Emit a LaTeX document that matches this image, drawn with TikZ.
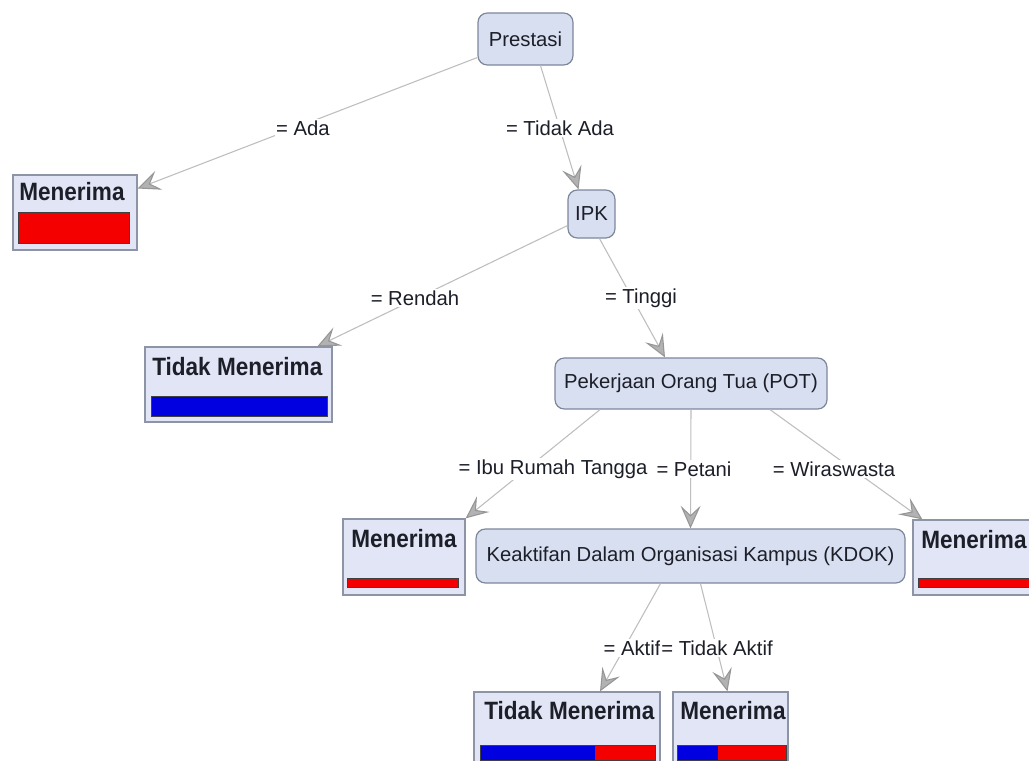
\documentclass[tikz,border=0pt]{standalone}
\usepackage{fontspec}
\setmainfont{Liberation Sans}
\newfontfamily\ttlfont{Liberation Sans}[FakeStretch=0.9]
\usetikzlibrary{arrows.meta}
\definecolor{innerfill}{RGB}{216,223,241}
\definecolor{innerdraw}{RGB}{125,135,155}
\definecolor{leaffill}{RGB}{226,229,246}
\definecolor{leafdraw}{RGB}{140,148,165}
\definecolor{txt}{RGB}{28,30,40}
\definecolor{barred}{RGB}{245,0,0}
\definecolor{barblue}{RGB}{0,0,225}
\definecolor{edgecol}{RGB}{190,190,190}
\definecolor{tipdraw}{RGB}{150,150,150}
\definecolor{tipfill}{RGB}{178,178,178}
\tikzset{
  inner/.style={draw=innerdraw, fill=innerfill, rounded corners=7pt, line width=0.9pt,
    text=txt, font=\fontsize{15.2pt}{18pt}\selectfont, inner sep=0pt},
  leaf/.style={draw=leafdraw, fill=leaffill, line width=0.9pt, inner sep=0pt},
  ttl/.style={anchor=west, inner sep=0pt, text=txt, font=\ttlfont\fontsize{18.8pt}{22pt}\selectfont\bfseries},
  barline/.style={draw=black!75, line width=0.6pt},
  lbl/.style={fill=white, inner sep=1pt, text=txt, font=\fontsize{15.2pt}{18pt}\selectfont},
  edge/.style={draw=edgecol, line width=0.8pt,
    -{Stealth[length=17pt,width=15pt,inset=7pt,color=tipdraw,fill=tipfill]}},
}
\begin{document}
\begin{tikzpicture}[x=0.75pt,y=-0.75pt]
\useasboundingbox[fill=white] (0,0) rectangle (1029,761);

% inner nodes
\node[inner, minimum width=95*0.75pt, minimum height=52*0.75pt] (pre) at (525.5,39) {Prestasi};
\node[inner, minimum width=47*0.75pt, minimum height=48*0.75pt] (ipk) at (591.5,214) {IPK};
\node[inner, minimum width=272*0.75pt, minimum height=51*0.75pt] (pot) at (691,383.5) {Pekerjaan Orang Tua (POT)};
\node[inner, minimum width=429*0.75pt, minimum height=54*0.75pt] (kdok) at (690.5,556) {Keaktifan Dalam Organisasi Kampus (KDOK)};

% leaf boxes
\node[leaf, minimum width=124*0.75pt, minimum height=75*0.75pt] (m1) at (75,212.5) {};
\node[leaf, minimum width=187*0.75pt, minimum height=75*0.75pt] (tm1) at (238.5,384.5) {};
\node[leaf, minimum width=122*0.75pt, minimum height=76*0.75pt] (m2) at (404,557) {};
\node[leaf, minimum width=122*0.75pt, minimum height=75*0.75pt] (m3) at (974,557.5) {};
\node[leaf, minimum width=186*0.75pt, minimum height=75*0.75pt] (tm2) at (567,729.5) {};
\node[leaf, minimum width=115*0.75pt, minimum height=75*0.75pt] (m4) at (730.5,729.5) {};

% titles
\node[ttl] (m1t) at (19,192) {Menerima};
\node[ttl] (tm1t) at (152,367) {Tidak Menerima};
\node[ttl] (m2t) at (351,539) {Menerima};
\node[ttl] (m3t) at (921,540) {Menerima};
\node[ttl] (tm2t) at (484,711) {Tidak Menerima};
\node[ttl] (m4t) at (680,711) {Menerima};

% bars
\draw[barline, fill=barred] (18,212) rectangle (129,243);
\draw[barline, fill=barblue] (151,396) rectangle (327,416);
\draw[barline, fill=barred] (347,578) rectangle (458,587);
\draw[barline, fill=barred] (918,578) rectangle (1032,587);
\fill[barblue] (480,745) rectangle (595,760);
\fill[barred] (595,745) rectangle (655,760);
\draw[barline] (480,745) rectangle (655,760);
\fill[barblue] (677,745) rectangle (718,760);
\fill[barred] (718,745) rectangle (786,760);
\draw[barline] (677,745) rectangle (786,760);

% edges
\draw[edge] (pre) -- (m1);
\draw[edge] ([xshift=15*0.75pt]pre.south) -- ([xshift=-13*0.75pt]ipk.north);
\draw[edge] (ipk) -- (tm1);
\draw[edge] ([xshift=8*0.75pt]ipk.south) -- ([xshift=-26*0.75pt]pot.north);
\draw[edge] ([xshift=-91*0.75pt]pot.south) -- (m2.north east);
\draw[edge] (pot.south) -- (kdok.north);
\draw[edge] ([xshift=79*0.75pt]pot.south) -- ([xshift=10*0.75pt]m3.north west);
\draw[edge] ([xshift=-30*0.75pt]kdok.south) -- ([xshift=33*0.75pt]tm2.north);
\draw[edge] ([xshift=10*0.75pt]kdok.south) -- ([xshift=-3*0.75pt]m4.north);

% edge labels
\node[lbl] (l1) at (303,128) {= Ada};
\node[lbl] (l2) at (560,128) {= Tidak Ada};
\node[lbl] (l3) at (415,298) {= Rendah};
\node[lbl] (l4) at (641,298) {= Tinggi};
\node[lbl] (l5) at (553,469) {= Ibu Rumah Tangga};
\node[lbl] (l6) at (694,469) {= Petani};
\node[lbl] (l7) at (834,469) {= Wiraswasta};
\node[lbl] (l8) at (632,648) {= Aktif};
\node[lbl] (l9) at (717,648) {= Tidak Aktif};
\end{tikzpicture}
\end{document}
